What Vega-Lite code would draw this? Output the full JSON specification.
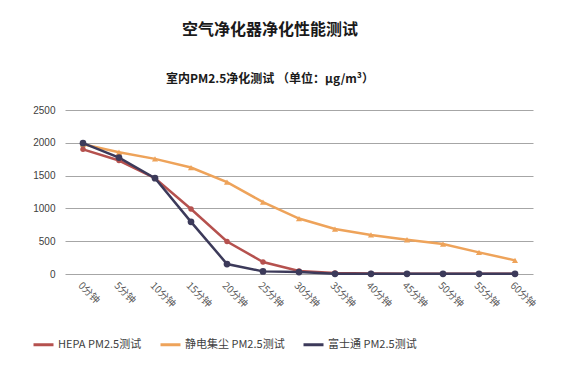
{
  "$schema": "https://vega.github.io/schema/vega-lite/v6.json",
  "width": 468,
  "height": 164,
  "autosize": "none",
  "padding": {"left": 65, "top": 110, "right": 32, "bottom": 97},
  "background": "white",
  "config": {
    "view": {"stroke": null},
    "font": "Noto Sans CJK SC"
  },
  "title": {
    "text": "空气净化器净化性能测试",
    "subtitle": "室内PM2.5净化测试 （单位：μg/m³）",
    "fontSize": 16,
    "fontWeight": "bold",
    "color": "#1a1a1a",
    "subtitleFontSize": 12,
    "subtitleFontWeight": "bold",
    "subtitleColor": "#1a1a1a",
    "subtitlePadding": 36,
    "anchor": "middle",
    "dx": -29,
    "offset": 20,
    "font": "Noto Sans CJK SC",
    "subtitleFont": "Noto Sans CJK SC"
  },
  "data": {
    "values": [
      {"t": "0分钟", "s": "HEPA PM2.5测试", "v": 1900},
      {"t": "5分钟", "s": "HEPA PM2.5测试", "v": 1730},
      {"t": "10分钟", "s": "HEPA PM2.5测试", "v": 1460},
      {"t": "15分钟", "s": "HEPA PM2.5测试", "v": 990},
      {"t": "20分钟", "s": "HEPA PM2.5测试", "v": 495},
      {"t": "25分钟", "s": "HEPA PM2.5测试", "v": 183},
      {"t": "30分钟", "s": "HEPA PM2.5测试", "v": 45},
      {"t": "35分钟", "s": "HEPA PM2.5测试", "v": 15},
      {"t": "40分钟", "s": "HEPA PM2.5测试", "v": 8},
      {"t": "45分钟", "s": "HEPA PM2.5测试", "v": 5},
      {"t": "50分钟", "s": "HEPA PM2.5测试", "v": 3},
      {"t": "55分钟", "s": "HEPA PM2.5测试", "v": 2},
      {"t": "60分钟", "s": "HEPA PM2.5测试", "v": 2},
      {"t": "0分钟", "s": "静电集尘 PM2.5测试", "v": 1978},
      {"t": "5分钟", "s": "静电集尘 PM2.5测试", "v": 1856},
      {"t": "10分钟", "s": "静电集尘 PM2.5测试", "v": 1755},
      {"t": "15分钟", "s": "静电集尘 PM2.5测试", "v": 1623},
      {"t": "20分钟", "s": "静电集尘 PM2.5测试", "v": 1400},
      {"t": "25分钟", "s": "静电集尘 PM2.5测试", "v": 1095},
      {"t": "30分钟", "s": "静电集尘 PM2.5测试", "v": 845},
      {"t": "35分钟", "s": "静电集尘 PM2.5测试", "v": 685},
      {"t": "40分钟", "s": "静电集尘 PM2.5测试", "v": 595},
      {"t": "45分钟", "s": "静电集尘 PM2.5测试", "v": 522},
      {"t": "50分钟", "s": "静电集尘 PM2.5测试", "v": 456},
      {"t": "55分钟", "s": "静电集尘 PM2.5测试", "v": 330},
      {"t": "60分钟", "s": "静电集尘 PM2.5测试", "v": 208},
      {"t": "0分钟", "s": "富士通 PM2.5测试", "v": 1995},
      {"t": "5分钟", "s": "富士通 PM2.5测试", "v": 1775},
      {"t": "10分钟", "s": "富士通 PM2.5测试", "v": 1460},
      {"t": "15分钟", "s": "富士通 PM2.5测试", "v": 795},
      {"t": "20分钟", "s": "富士通 PM2.5测试", "v": 152},
      {"t": "25分钟", "s": "富士通 PM2.5测试", "v": 40},
      {"t": "30分钟", "s": "富士通 PM2.5测试", "v": 30},
      {"t": "35分钟", "s": "富士通 PM2.5测试", "v": 2},
      {"t": "40分钟", "s": "富士通 PM2.5测试", "v": 2},
      {"t": "45分钟", "s": "富士通 PM2.5测试", "v": 2},
      {"t": "50分钟", "s": "富士通 PM2.5测试", "v": 2},
      {"t": "55分钟", "s": "富士通 PM2.5测试", "v": 2},
      {"t": "60分钟", "s": "富士通 PM2.5测试", "v": 2}
    ]
  },
  "encoding": {
    "x": {
      "field": "t",
      "type": "ordinal",
      "sort": null,
      "scale": {"type": "point", "padding": 0.5},
      "axis": {
        "title": null,
        "labelAngle": 45,
        "labelFontSize": 10,
        "labelColor": "#595959",
        "labelFont": "Noto Sans CJK SC",
        "labelPadding": 6,
        "domain": false,
        "ticks": false,
        "grid": false
      }
    },
    "y": {
      "field": "v",
      "type": "quantitative",
      "scale": {"domain": [0, 2500]},
      "axis": {
        "title": null,
        "values": [0, 500, 1000, 1500, 2000, 2500],
        "format": "d",
        "labelFontSize": 10,
        "labelColor": "#404040",
        "labelFont": "Liberation Sans",
        "labelPadding": 10,
        "domain": false,
        "ticks": false,
        "grid": true,
        "gridColor": "#a6a6a6",
        "gridWidth": 1
      }
    }
  },
  "resolve": {"legend": {"shape": "independent", "size": "independent", "fill": "independent"}},
  "layer": [
    {
      "mark": {"type": "line", "strokeWidth": 2.5},
      "encoding": {
        "color": {
          "field": "s",
          "type": "nominal",
          "scale": {
            "domain": ["HEPA PM2.5测试", "静电集尘 PM2.5测试", "富士通 PM2.5测试"],
            "range": ["#b5514e", "#eea35a", "#3c3a5a"]
          },
          "legend": {
            "title": null,
            "orient": "none",
            "direction": "horizontal",
            "legendX": -33,
            "legendY": 223,
            "symbolType": "stroke",
            "symbolStrokeWidth": 3,
            "symbolSize": 400,
            "labelFontSize": 11,
            "labelColor": "#404040",
            "labelFont": "Noto Sans CJK SC",
            "labelOffset": 3,
            "columnPadding": 12
          }
        }
      }
    },
    {
      "mark": {"type": "point", "filled": true, "opacity": 1, "strokeWidth": 0},
      "encoding": {
        "fill": {
          "field": "s",
          "type": "nominal",
          "scale": {
            "domain": ["HEPA PM2.5测试", "静电集尘 PM2.5测试", "富士通 PM2.5测试"],
            "range": ["#b5514e", "#eea35a", "#3c3a5a"]
          },
          "legend": null
        },
        "shape": {
          "field": "s",
          "type": "nominal",
          "scale": {
            "domain": ["HEPA PM2.5测试", "静电集尘 PM2.5测试", "富士通 PM2.5测试"],
            "range": ["circle", "triangle-up", "circle"]
          },
          "legend": null
        },
        "size": {
          "field": "s",
          "type": "nominal",
          "scale": {
            "domain": ["HEPA PM2.5测试", "静电集尘 PM2.5测试", "富士通 PM2.5测试"],
            "range": [30, 45, 60]
          },
          "legend": null
        }
      }
    }
  ]
}
